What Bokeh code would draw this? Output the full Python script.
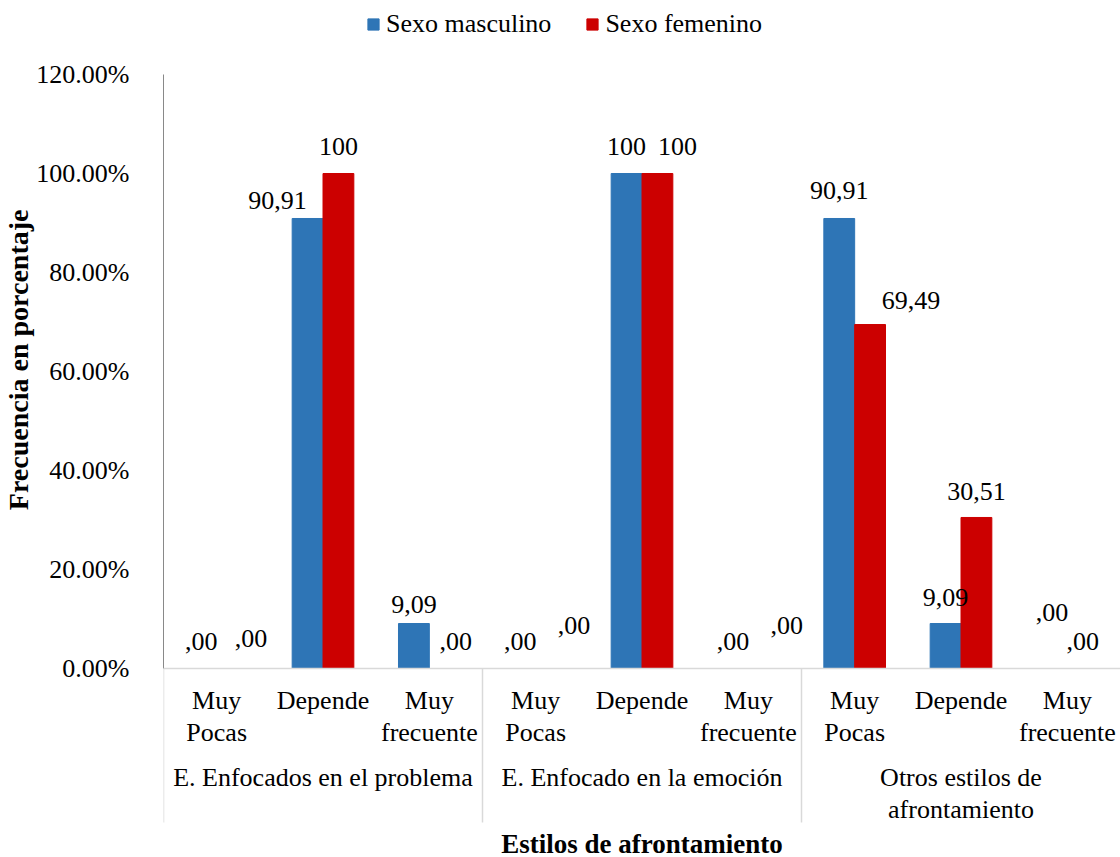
from bokeh.plotting import figure
from bokeh.models import (FactorRange, Range1d, FixedTicker, ColumnDataSource,
                          Legend, LegendItem, Span, Title)
from bokeh.transform import dodge
from bokeh.core.properties import value
from bokeh.embed import file_html
from bokeh.resources import INLINE

# ---------------- data ----------------
groups = ["E. Enfocados en el problema", "E. Enfocado en la emoción",
          "Otros estilos de afrontamiento"]
group_labels = ["E. Enfocados en el problema", "E. Enfocado en la emoción",
                "Otros estilos de\nafrontamiento"]
subcats = ["Muy Pocas", "Depende", "Muy frecuente"]
subcat_labels = ["Muy\nPocas", "Depende", "Muy\nfrecuente"]
series_names = ["Sexo masculino", "Sexo femenino"]
masculino = [0.0, 90.91, 9.09, 0.0, 100.0, 0.0, 90.91, 9.09, 0.0]
femenino = [0.0, 100.0, 0.0, 0.0, 100.0, 0.0, 69.49, 30.51, 0.0]
y_ticks = [0, 20, 40, 60, 80, 100, 120]
y_tick_labels = ["0.00%", "20.00%", "40.00%", "60.00%", "80.00%", "100.00%", "120.00%"]

# ---------------- style / layout ----------------
FONT = "Liberation Serif"
FS = "26px"
BLUE = "#2E75B6"
RED = "#CC0000"
W, H = 1120, 857
FRAME_LEFT = 162
ZERO_PX = 668          # screen y of value 0 (from top of frame)
TOP_PX = 74            # screen y of value 120
PX_PER_UNIT = (ZERO_PX - TOP_PX) / 120.0
BAR_W = 0.29
DODGE = BAR_W / 2

# manual label nudges (screen px) like the original chart
m_dx = [0, -30, 0, 0, 0, 0, 0, 0, 0]
m_up = [27, 18, 19, 27, 27, 27, 28, 26, 56]
f_dx = [19, 0, 11, 23, 20, 23, 41, 0, 0]
f_up = [30, 27, 27, 43, 27, 43, 24, 26, 27]


def fmt(v):
    if v == 100:
        return "100"
    s = f"{v:.2f}".replace(".", ",")
    if s.startswith("0,"):
        s = s[1:]
    return s


cats = [(g, s) for g in groups for s in subcats]
src = ColumnDataSource(data=dict(
    cat=cats,
    masc=masculino,
    fem=femenino,
    masc_lbl=[fmt(v) for v in masculino],
    fem_lbl=[fmt(v) for v in femenino],
    m_dx=m_dx, m_dy=[-u for u in m_up],
    f_dx=f_dx, f_dy=[-u for u in f_up],
    sub_lbl=subcat_labels * len(groups),
))

y_top = 120 + TOP_PX / PX_PER_UNIT
y_bottom = -(H - ZERO_PX) / PX_PER_UNIT

p = figure(width=W, height=H,
           x_range=FactorRange(*cats, group_padding=0, factor_padding=0, range_padding=0),
           y_range=Range1d(y_bottom, y_top),
           x_axis_location=None, y_axis_location="left",
           output_backend="svg", toolbar_location=None,
           min_border_left=FRAME_LEFT, min_border_right=0,
           min_border_top=0, min_border_bottom=0)
p.outline_line_color = None
p.grid.grid_line_color = None
p.background_fill_color = "white"

# y axis
ya = p.yaxis[0]
ya.ticker = FixedTicker(ticks=y_ticks)
ya.major_label_overrides = {t: l for t, l in zip(y_ticks, y_tick_labels)}
ya.bounds = (0, 120)
ya.axis_line_color = "#898989"
ya.major_tick_line_color = None
ya.minor_tick_line_color = None
ya.major_label_standoff = 28
ya.major_label_text_font = FONT
ya.major_label_text_font_size = FS
ya.major_label_text_color = "black"

# y axis title (placed over the 0-120 span like the original)
p.add_layout(Title(text="Frecuencia en porcentaje", align="right", offset=209,
                   standoff=0, text_font=FONT, text_font_size="28px",
                   text_font_style="bold", text_color="black"), "left")

# baseline
p.add_layout(Span(location=0, dimension="width", line_color="#D9D9D9", line_width=1.5))

# bars
rb = p.vbar(x=dodge("cat", -DODGE, range=p.x_range), top="masc", width=BAR_W,
            source=src, fill_color=BLUE, line_color=BLUE)
rr = p.vbar(x=dodge("cat", DODGE, range=p.x_range), top="fem", width=BAR_W,
            source=src, fill_color=RED, line_color=RED)

# data labels
common = dict(text_font=value(FONT), text_font_size=value(FS), text_color="black",
              text_align="center", text_baseline="alphabetic", source=src)
p.text(x=dodge("cat", -DODGE, range=p.x_range), y="masc", text="masc_lbl",
       x_offset="m_dx", y_offset="m_dy", **common)
p.text(x=dodge("cat", DODGE, range=p.x_range), y="fem", text="fem_lbl",
       x_offset="f_dx", y_offset="f_dy", **common)

# category labels (sub level)
p.text(x="cat", y=0, text="sub_lbl", source=src, y_offset=17,
       text_font=value(FONT), text_font_size=value(FS), text_color="black",
       text_align="center", text_baseline="top", text_line_height=1.12)

# group labels
gsrc = ColumnDataSource(data=dict(
    mid=[(g, subcats[1]) for g in groups],
    first=[(g, subcats[0]) for g in groups],
    lbl=group_labels,
    y0=[0] * len(groups),
    y1=[-154 / PX_PER_UNIT] * len(groups),
))
p.text(x="mid", y=0, text="lbl", source=gsrc, y_offset=94,
       text_font=value(FONT), text_font_size=value(FS), text_color="black",
       text_align="center", text_baseline="top", text_line_height=1.12)

# group separators
p.segment(x0=dodge("first", -0.5, range=p.x_range), y0="y0",
          x1=dodge("first", -0.5, range=p.x_range), y1="y1",
          source=gsrc, line_color="#D9D9D9", line_width=1.5)

# x axis title
p.text(x=[(groups[1], subcats[1])], y=[0], text=["Estilos de afrontamiento"],
       y_offset=175, text_font=value(FONT), text_font_size=value("27px"),
       text_font_style="bold", text_color="black", text_align="center",
       text_baseline="alphabetic")

# legend
legend = Legend(items=[LegendItem(label=series_names[0], renderers=[rb]),
                       LegendItem(label=series_names[1], renderers=[rr])],
                orientation="horizontal", location=(203, 818),
                label_text_font=FONT, label_text_font_size=FS,
                label_text_color="black",
                glyph_width=14, glyph_height=14, label_standoff=6, spacing=34,
                padding=0, margin=0, border_line_color=None,
                background_fill_alpha=0)
p.add_layout(legend, "center")

open("out.html", "w").write(file_html(p, INLINE))
